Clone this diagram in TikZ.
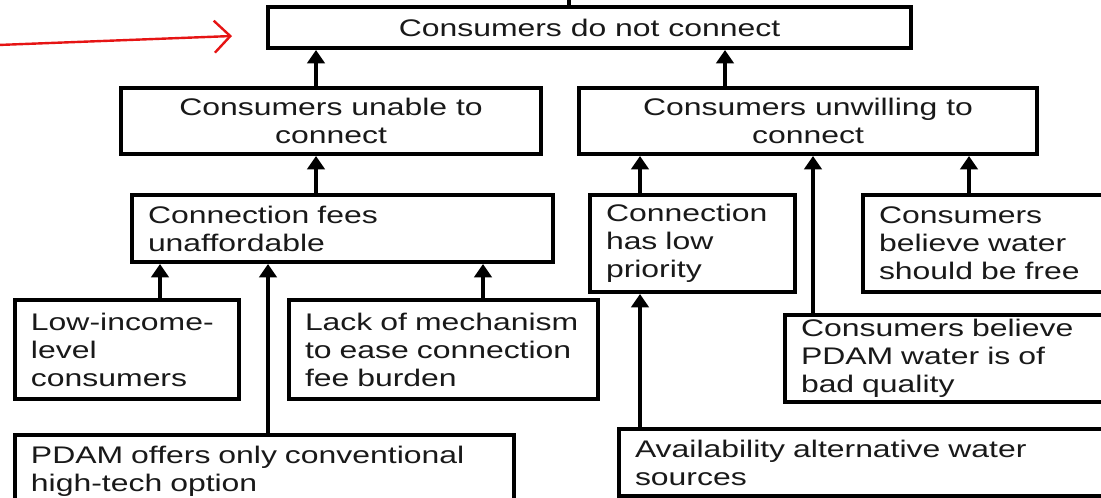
\documentclass[tikz,border=0pt]{standalone}
\usepackage{fontspec}
\setmainfont[FakeStretch=1.33]{Liberation Sans}
\usetikzlibrary{arrows.meta}
\tikzset{
  box/.style={draw=black, line width=3pt, fill=white, inner xsep=12pt, inner ysep=0pt,
    font=\fontsize{18pt}{21pt}\selectfont, text=black!90},
  cbox/.style={box, align=center, anchor=center},
  lbox/.style={box, align=left, anchor=north west},
  arr/.style={line width=3pt, -{Triangle[length=10pt,width=13pt]}},
  conn/.style={line width=3pt},
  redarr/.style={draw={rgb,255:red,230;green,20;blue,20}, line width=1.8pt, -{Straight Barb[length=12pt,width=24pt,line width=1.8pt]}}
}
\begin{document}
\begin{tikzpicture}[x=0.75pt,y=-0.75pt]
\path[use as bounding box] (0,0) rectangle (1101,497);
\clip (0,0) rectangle (1101,497);
\fill[white] (0,0) rectangle (1101,497);

% column coordinates
\coordinate (x160) at (160,0);
\coordinate (x268) at (268,0);
\coordinate (x316) at (316,0);
\coordinate (x483) at (483,0);
\coordinate (x640) at (640,0);
\coordinate (x725) at (725,0);
\coordinate (x813) at (813,0);
\coordinate (x969) at (969,0);

% top level
\node[cbox, minimum width=482.25pt, minimum height=30.75pt] (top) at (589.5,27.5) {Consumers do not connect};
\node[cbox, minimum width=315pt, minimum height=49.5pt] (unable) at (331,121) {Consumers unable to\\connect};
\node[cbox, minimum width=343.5pt, minimum height=49.5pt] (unwilling) at (808,121) {Consumers unwilling to\\connect};

% left branch
\node[lbox, text width=291.75pt, minimum height=50.25pt] (fees) at (130,193) {Connection fees\\unaffordable};
\node[lbox, text width=144pt, minimum height=74.25pt] (lowinc) at (13,298) {Low-income-\\level\\consumers};
\node[lbox, text width=207.75pt, minimum height=74.25pt] (lack) at (287,298) {Lack of mechanism\\to ease connection\\fee burden};
\node[lbox, text width=350.25pt, minimum height=54pt] (pdam) at (13,433) {PDAM offers only conventional\\high-tech option};

% right branch
\node[lbox, text width=129.75pt, minimum height=72.75pt] (lowpri) at (588,193) {Connection\\has low\\priority};
\node[lbox, text width=166.5pt, minimum height=72.75pt] (free) at (861,193) {Consumers\\believe water\\should be free};
\node[lbox, text width=225pt, minimum height=65.25pt] (quality) at (783,313) {Consumers believe\\PDAM water is of\\bad quality};
\node[lbox, text width=349.5pt, minimum height=50.25pt] (avail) at (617,427) {Availability alternative water\\sources};

% connectors
\draw[arr] (unable.north -| x316) -- (top.south -| x316);
\draw[arr] (unwilling.north -| x725) -- (top.south -| x725);
\draw[arr] (fees.north -| x316) -- (unable.south -| x316);
\draw[arr] (lowpri.north -| x640) -- (unwilling.south -| x640);
\draw[arr] (quality.north -| x813) -- (unwilling.south -| x813);
\draw[arr] (free.north -| x969) -- (unwilling.south -| x969);
\draw[arr] (lowinc.north -| x160) -- (fees.south -| x160);
\draw[arr] (pdam.north -| x268) -- (fees.south -| x268);
\draw[arr] (lack.north -| x483) -- (fees.south -| x483);
\draw[arr] (avail.north -| x640) -- (lowpri.south -| x640);

% connector leaving the top box upward (cut off)
\coordinate (topout) at (569,-10);
\draw[conn] (top.north -| topout) -- (topout);

% red pointer
\coordinate (rs) at (-2,45);
\coordinate (re) at (232,36);
\draw[redarr] (rs) -- (re);
\end{tikzpicture}
\end{document}
